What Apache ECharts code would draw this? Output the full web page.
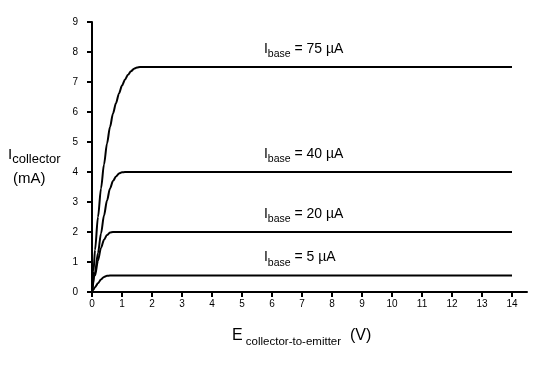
<!DOCTYPE html>
<html><head><meta charset="utf-8">
<script src="https://cdn.jsdelivr.net/npm/echarts@6/dist/echarts.min.js"></script>
<style>html,body{margin:0;padding:0;background:#fff}#c{width:554px;height:365px}</style>
</head><body><div id="c"></div>
<script>
const xTicks = [0,1,2,3,4,5,6,7,8,9,10,11,12,13,14];
const yTicks = [0,1,2,3,4,5,6,7,8,9];
const seriesNames = ['75', '40', '20', '5'];
const curve75 = [[0,0],[0.05,0.7],[0.1,1.4],[0.2,2.5],[0.3,3.45],[0.4,4.25],[0.5,4.95],[0.6,5.5],[0.7,5.95],[0.8,6.3],[0.9,6.62],[1.0,6.88],[1.1,7.08],[1.2,7.24],[1.3,7.36],[1.4,7.44],[1.5,7.48],[1.6,7.5],[14,7.5]];
const curve40 = [[0,0],[0.1,0.65],[0.2,1.3],[0.3,1.95],[0.4,2.55],[0.5,3.05],[0.6,3.45],[0.7,3.7],[0.8,3.85],[0.9,3.95],[1.0,3.99],[1.1,4.0],[14,4.0]];
const curve20 = [[0,0],[0.1,0.55],[0.2,1.05],[0.3,1.47],[0.4,1.74],[0.5,1.9],[0.6,1.98],[0.7,2.0],[14,2.0]];
const curve5 = [[0,0],[0.05,0.08],[0.1,0.16],[0.2,0.29],[0.3,0.42],[0.4,0.5],[0.5,0.54],[0.6,0.55],[14,0.55]];
const curves = [curve75, curve40, curve20, curve5];
const labelPos = [[5.73,7.5],[5.73,4.0],[5.73,2.0],[5.73,0.55]];

const chart = echarts.init(document.getElementById('c'));
const font = 'Liberation Sans, Arial, sans-serif';
const series = curves.map((d, i) => ({
  type: 'line', data: d, showSymbol: false, smooth: 0.3, smoothMonotone: 'x',
  lineStyle: {color: '#000', width: 2}, silent: true, animation: false,
  markPoint: {
    symbol: 'rect', symbolSize: 0,
    data: [{coord: labelPos[i]}],
    label: {
      show: true, position: 'top', distance: 7, align: 'left',
      formatter: '{a|I}{b|base}{a| = ' + seriesNames[i] + ' µA}',
      rich: {
        a: {fontFamily: font, fontSize: 14, color: '#000', padding: [0,0,4,0], verticalAlign: 'bottom'},
        b: {fontFamily: font, fontSize: 10.5, color: '#000', verticalAlign: 'bottom'}
      }
    }
  }
}));

chart.setOption({
  animation: false,
  grid: {left: 92, right: 27, top: 22, bottom: 73, containLabel: false},
  xAxis: {
    type: 'value', min: 0, max: 14.5,
    axisLine: {lineStyle: {color: '#000', width: 2}},
    axisTick: {show: true, length: 5, lineStyle: {color: '#000', width: 2}, customValues: xTicks},
    axisLabel: {color: '#000', fontSize: 10, fontFamily: font, margin: 7, customValues: xTicks},
    splitLine: {show: false}
  },
  yAxis: {
    type: 'value', min: 0, max: 9, interval: 1,
    axisLine: {show: true, lineStyle: {color: '#000', width: 2}},
    axisTick: {show: true, length: 5, lineStyle: {color: '#000', width: 2}},
    axisLabel: {color: '#000', fontSize: 10, fontFamily: font, margin: 14},
    splitLine: {show: false}
  },
  graphic: [
    {type: 'text', left: 232, top: 328, style: {
      text: '{a|E}{b| collector-to-emitter}{a|  (V)}', fontFamily: font,
      rich: {
        a: {fontFamily: font, fontSize: 16, fill: '#000', padding: [0,0,4,0], verticalAlign: 'bottom'},
        b: {fontFamily: font, fontSize: 11.5, fill: '#000', verticalAlign: 'bottom'}
      }}},
    {type: 'text', left: 8, top: 147, style: {
      text: '{a|I}{b|collector}', fontFamily: font,
      rich: {
        a: {fontFamily: font, fontSize: 15, fill: '#000', padding: [0,0,4,0], verticalAlign: 'bottom'},
        b: {fontFamily: font, fontSize: 13, fill: '#000', verticalAlign: 'bottom'}
      }}},
    {type: 'text', left: 13, top: 171, style: {text: '(mA)', fontFamily: font, fontSize: 15, fill: '#000'}}
  ],
  series: series
});
</script></body></html>
